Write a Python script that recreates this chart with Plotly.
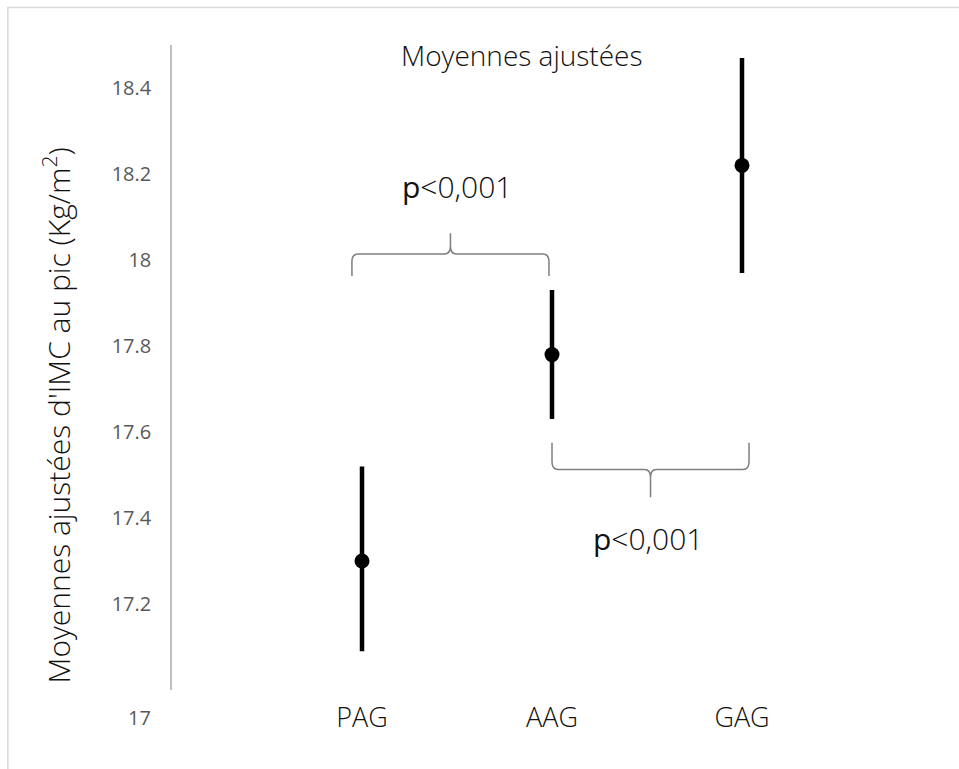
import plotly.graph_objects as go

# Adjusted mean BMI at peak, with confidence limits, per group
groups = ["PAG", "AAG", "GAG"]
group_pos = [1, 2, 3]
means = [17.30, 17.78, 18.22]
lower = [17.09, 17.63, 17.97]
upper = [17.52, 17.93, 18.47]
y_ticks = [17.2, 17.4, 17.6, 17.8, 18.0, 18.2, 18.4]
y_tick_text = ["17.2", "17.4", "17.6", "17.8", "18", "18.2", "18.4"]
p_label = "p&lt;0,001"

FONT = "Open Sans"
TICK_GRAY = "#595959"
BRACE_GRAY = "#7f7f7f"

err_plus = [u - m for u, m in zip(upper, means)]
err_minus = [m - l for m, l in zip(means, lower)]

fig = go.Figure()
fig.add_trace(go.Scatter(
    x=group_pos, y=means, mode="markers",
    marker=dict(color="black", size=15),
    error_y=dict(type="data", symmetric=False, array=err_plus, arrayminus=err_minus,
                 color="black", thickness=4.5, width=0),
    showlegend=False, hoverinfo="skip",
))


def brace_path(x0, x1, y_end, y_bar, y_tip, cx=0.032, cy=0.018):
    """Curly brace lying on its side: ends at y_end, bar at y_bar, tip at y_tip."""
    s = 1 if y_tip > y_bar else -1
    xm = (x0 + x1) / 2
    return (
        f"M {x0},{y_end} L {x0},{y_bar - s * cy} Q {x0},{y_bar} {x0 + cx},{y_bar} "
        f"L {xm - cx},{y_bar} Q {xm},{y_bar} {xm},{y_bar + s * cy} L {xm},{y_tip} "
        f"L {xm},{y_bar + s * cy} Q {xm},{y_bar} {xm + cx},{y_bar} "
        f"L {x1 - cx},{y_bar} Q {x1},{y_bar} {x1},{y_bar - s * cy} L {x1},{y_end}"
    )


shapes = [
    # PAG vs AAG brace (above)
    dict(type="path", xref="x", yref="y",
         path=brace_path(0.947, 1.984, 17.963, 18.014, 18.062),
         line=dict(color=BRACE_GRAY, width=1.5)),
    # AAG vs GAG brace (below)
    dict(type="path", xref="x", yref="y",
         path=brace_path(2.0, 3.037, 17.575, 17.513, 17.448),
         line=dict(color=BRACE_GRAY, width=1.5)),
    # outer frame of the chart area
    dict(type="rect", xref="paper", yref="paper",
         x0=-0.216, x1=1.2, y0=-0.3, y1=1.058,
         line=dict(color="#d9d9d9", width=1.5), layer="below"),
]

p_text = f'<span style="font-weight:400">p</span>{p_label[1:]}'

annotations = [
    dict(text="Moyennes ajustées", xref="paper", yref="paper", x=0.4605, y=0.9845,
         xanchor="center", yanchor="middle", showarrow=False,
         font=dict(family=FONT, size=28, color="#111111", weight=300)),
    dict(text="Moyennes ajustées d'IMC au pic (Kg/m<sup>2</sup>)", xref="paper", yref="paper",
         x=-0.151, y=0.426, xanchor="center", yanchor="middle", textangle=-90,
         showarrow=False,
         font=dict(family=FONT, size=30, color="#111111", weight=300)),
    dict(text=p_text, xref="x", yref="y", x=1.5, y=18.172,
         xanchor="center", yanchor="middle", showarrow=False,
         font=dict(family=FONT, size=30, color="#111111", weight=300)),
    dict(text=p_text, xref="x", yref="y", x=2.505, y=17.353,
         xanchor="center", yanchor="middle", showarrow=False,
         font=dict(family=FONT, size=30, color="#111111", weight=300)),
    # axis minimum label, set below the baseline
    dict(text="17", xref="paper", yref="y", x=-0.025, y=17.0, xanchor="right",
         yanchor="middle", yshift=-27, showarrow=False,
         font=dict(family=FONT, size=20, color=TICK_GRAY)),
]

fig.update_layout(
    width=959, height=769,
    margin=dict(l=172, r=27, t=45, b=79),
    paper_bgcolor="white", plot_bgcolor="white",
    shapes=shapes, annotations=annotations,
    xaxis=dict(range=[0, 4], tickvals=group_pos, ticktext=groups,
               showgrid=False, zeroline=False, showline=False, ticks="",
               ticklabelstandoff=9,
               tickfont=dict(family=FONT, size=27, color="#111111", weight=300)),
    yaxis=dict(range=[17, 18.5], tickvals=y_ticks, ticktext=y_tick_text,
               showgrid=False, zeroline=False, showline=True,
               linecolor="#bfbfbf", linewidth=1.5, ticks="",
               ticklabelstandoff=15,
               tickfont=dict(family=FONT, size=20, color=TICK_GRAY)),
)

fig.write_html("out.html")
